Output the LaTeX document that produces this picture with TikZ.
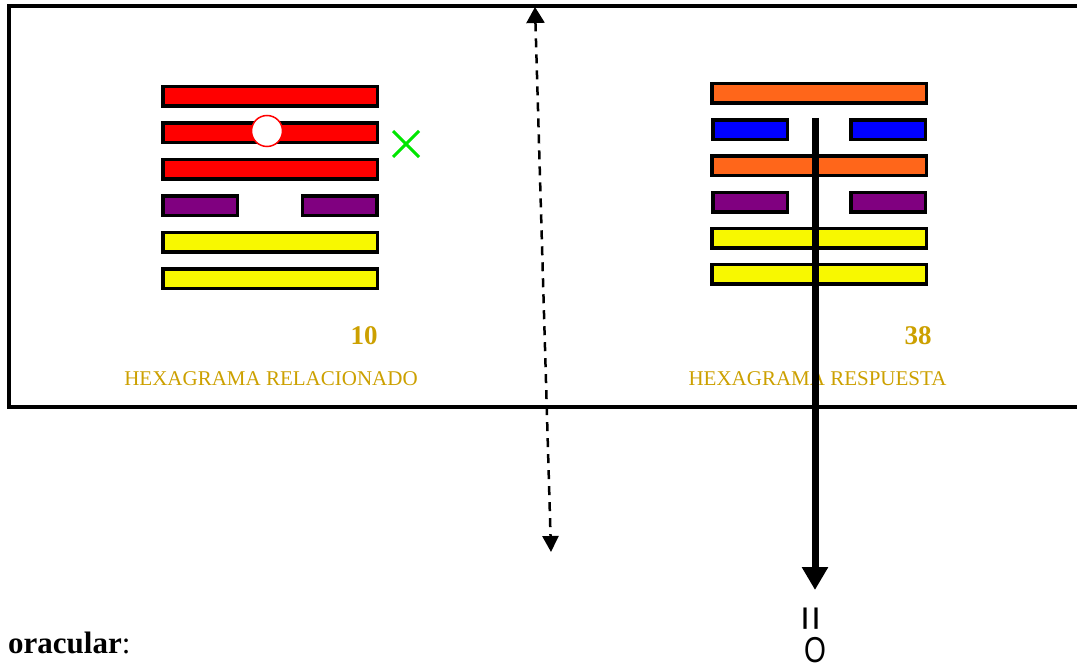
\documentclass[tikz,border=0pt]{standalone}
\usepackage{fontspec}
\setmainfont{Liberation Serif}
\newfontfamily\arialfont{Liberation Sans}
\usetikzlibrary{arrows.meta}
\definecolor{hred}{RGB}{255,0,0}
\definecolor{hpurple}{RGB}{128,0,128}
\definecolor{hyellow}{RGB}{248,248,0}
\definecolor{horange}{RGB}{255,102,26}
\definecolor{hblue}{RGB}{0,0,255}
\definecolor{hgold}{RGB}{204,160,0}
\definecolor{hgreen}{RGB}{0,230,0}
\tikzset{
  hbar/.style={draw=black, line width=3.5pt, rectangle, inner sep=0pt, minimum height=19.5pt},
  fullbar/.style={hbar, minimum width=214.5pt},
  halfbar/.style={hbar, minimum width=74.5pt},
  numlabel/.style={text=hgold, font=\fontsize{27}{30}\selectfont\bfseries, inner sep=0pt, anchor=base},
  namelabel/.style={text=hgold, font=\fontsize{21}{24}\selectfont, inner sep=0pt, anchor=base},
}
\begin{document}
\begin{tikzpicture}[x=1pt, y=-1pt]
\useasboundingbox (0,0) rectangle (1077,668);
% frame
\draw[line width=4pt] (9,6.5) rectangle (1095,407);
% left hexagram (10)
\node[fullbar, fill=hred] (l1) at (270,96.5) {};
\node[fullbar, fill=hred] (l2) at (270,133) {};
\node[fullbar, fill=hred] (l3) at (270,169.5) {};
\node[halfbar, fill=hpurple] (l4a) at (200,206) {};
\node[halfbar, fill=hpurple] (l4b) at (339.5,206) {};
\node[fullbar, fill=hyellow] (l5) at (270,242.5) {};
\node[fullbar, fill=hyellow] (l6) at (270,279) {};
\node[circle, draw=hred, line width=1.5pt, fill=white, minimum size=31pt, inner sep=0pt] (mark) at (267,131) {};
\coordinate (xa) at (393,131);
\coordinate (xb) at (419,157);
\coordinate (xc) at (393,157);
\coordinate (xd) at (419,131);
\draw[hgreen, line width=3pt] (xa) -- (xb) (xc) -- (xd);
% right hexagram (38)
\node[fullbar, fill=horange] (r1) at (819,93.5) {};
\node[halfbar, fill=hblue] (r2a) at (750,129.7) {};
\node[halfbar, fill=hblue] (r2b) at (888,129.7) {};
\node[fullbar, fill=horange] (r3) at (819,165.9) {};
\node[halfbar, fill=hpurple] (r4a) at (750,202.1) {};
\node[halfbar, fill=hpurple] (r4b) at (888,202.1) {};
\node[fullbar, fill=hyellow] (r5) at (819,238.3) {};
\node[fullbar, fill=hyellow] (r6) at (819,274.5) {};
% labels
\node[numlabel] (n10) at (364,345) {10};
\node[namelabel] (t10) at (271,386) {HEXAGRAMA RELACIONADO};
\node[numlabel] (n38) at (918,345) {38};
\node[namelabel] (t38) at (817.5,386) {HEXAGRAMA RESPUESTA};
% dashed double arrow
\coordinate (dtop) at (535,7);
\coordinate (dbot) at (551,552);
\draw[line width=2.5pt, dash pattern=on 9pt off 7pt, {Triangle[width=18pt,length=16pt]}-{Triangle[width=16pt,length=16pt]}] (dtop) -- (dbot);
% thick arrow
\coordinate (ts) at (815,118);
\coordinate (te) at (815,590);
\draw[line width=7pt, -{Triangle[width=25pt,length=23pt]}] (ts) -- (te);
\node[font=\arialfont\fontsize{44}{46}\selectfont, rotate=90, inner sep=0pt] (eq) at (815,619) {=};
\node[font=\arialfont\fontsize{36}{38}\selectfont, xscale=0.78, inner sep=0pt] (oo) at (815,650) {O};
% bottom text
\node[font=\fontsize{31}{34}\selectfont, anchor=base west, inner sep=0pt] (orac) at (8,653) {\textbf{oracular}:};
\end{tikzpicture}
\end{document}
